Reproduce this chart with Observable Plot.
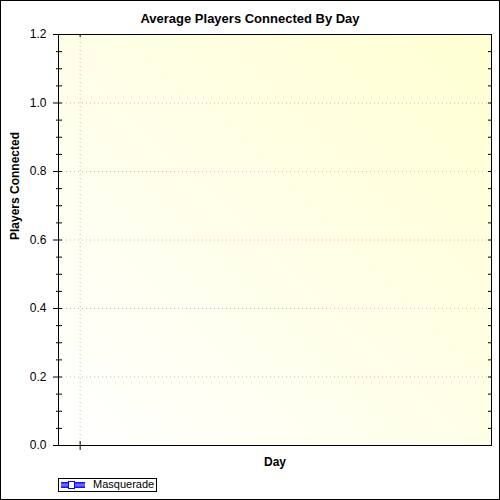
<!DOCTYPE html>
<html>
<head>
<meta charset="utf-8">
<script src="https://cdn.jsdelivr.net/npm/d3@7"></script>
<script src="https://cdn.jsdelivr.net/npm/@observablehq/plot@0.6"></script>
<style>
  html, body { margin: 0; padding: 0; background: #fff; }
  #chart { position: relative; width: 500px; height: 500px; background: #fff; font-family: "Liberation Sans", Arial, sans-serif; overflow: hidden; }
  #border { position: absolute; left: 0; top: 0; width: 500px; height: 500px; border: 1px solid #000; box-sizing: border-box; pointer-events: none; }
  #title { height: 30px; box-sizing: border-box; padding-top: 11px; line-height: 15px; font-size: 13px; font-weight: bold; text-align: center; color: #000; }
  #plot { margin-top: -10px; }
  #plot svg { display: block; }
  #legend { position: absolute; left: 58px; top: 478px; width: 99px; height: 14px; border: 1px solid #000; box-sizing: border-box; background: #fff; }
  #legend .item { position: absolute; left: 0; top: 0; height: 12px; }
  #legend svg { position: absolute; left: 2px; top: 2px; }
  #legend span { position: absolute; left: 34px; top: -1px; font-size: 11px; line-height: 12px; white-space: nowrap; color: #000; }
</style>
</head>
<body>
<div id="chart">
  <div id="title"></div>
  <div id="plot"></div>
  <div id="legend"></div>
  <div id="border"></div>
</div>
<script>
// ---- Data (the series has no recorded values in the reference) ----
const chartTitle = "Average Players Connected By Day";
const xLabel = "Day";
const yLabel = "Players Connected";
const seriesNames = ["Masquerade"];
const days = [];
const players = [];
const xDomain = [0, 20];
const xTicks = [1];
const yDomain = [0, 1.2];
const yTicks = [0, 0.2, 0.4, 0.6, 0.8, 1.0, 1.2];
const yGridTicks = [0.2, 0.4, 0.6, 0.8, 1.0];
const yMinorTicks = [0.05, 0.1, 0.15, 0.25, 0.3, 0.35, 0.45, 0.5, 0.55, 0.65, 0.7, 0.75, 0.85, 0.9, 0.95, 1.05, 1.1, 1.15];
const yRightTicks = [0.05, 0.1, 0.15, 0.2, 0.25, 0.3, 0.35, 0.4, 0.45, 0.5, 0.55, 0.6, 0.65, 0.7, 0.75, 0.8, 0.85, 0.9, 0.95, 1.0, 1.05, 1.1, 1.15];

const rows = days.map((d, i) => ({day: d, players: players[i], series: seriesNames[0]}));

document.getElementById("title").textContent = chartTitle;

const W = 500, H = 450;
const mL = 58, mR = 9, mT = 14, mB = 25;
const fw = W - mL - mR;   // frame width
const fh = H - mT - mB;   // frame height

const background = (index, scales, values, dims) => {
  const g = d3.create("svg:g");
  const lg = g.append("defs").append("linearGradient")
    .attr("id", "bgGrad").attr("x1", "0").attr("y1", "1").attr("x2", "1").attr("y2", "0");
  lg.append("stop").attr("offset", "0").attr("stop-color", "#ffffff");
  lg.append("stop").attr("offset", "1").attr("stop-color", "#ffffd2");
  g.append("rect")
    .attr("x", dims.marginLeft).attr("y", dims.marginTop)
    .attr("width", dims.width - dims.marginLeft - dims.marginRight)
    .attr("height", dims.height - dims.marginTop - dims.marginBottom)
    .attr("fill", "url(#bgGrad)");
  return g.node();
};

const plot = Plot.plot({
  width: W,
  height: H,
  marginLeft: mL,
  marginRight: mR,
  marginTop: mT,
  marginBottom: mB,
  style: {background: "transparent", fontFamily: "'Liberation Sans', Arial, sans-serif", fontSize: "12px", color: "#000"},
  x: {type: "linear", domain: xDomain, axis: null},
  y: {type: "linear", domain: yDomain, axis: null},
  marks: [
    background,
    Plot.gridY(yGridTicks, {stroke: "#c0c0c0", strokeOpacity: 1, strokeDasharray: "1,3"}),
    Plot.gridX(xTicks, {stroke: "#c0c0c0", strokeOpacity: 1, strokeDasharray: "1,3"}),
    Plot.line(rows, {x: "day", y: "players", stroke: "blue", strokeWidth: 2}),
    Plot.dot(rows, {x: "day", y: "players", symbol: "square", fill: "white", stroke: "blue", r: 3}),
    Plot.frame({stroke: "#000"}),
    // left major ticks (crossing the axis)
    Plot.tickY(yTicks, {y: d => d, stroke: "#000", strokeOpacity: 1, insetLeft: -5, insetRight: fw - 4}),
    // left minor ticks
    Plot.tickY(yMinorTicks, {y: d => d, stroke: "#000", strokeOpacity: 1, insetLeft: -2, insetRight: fw - 4}),
    // right inward ticks
    Plot.tickY(yRightTicks, {y: d => d, stroke: "#000", strokeOpacity: 1, insetLeft: fw - 3, insetRight: 0}),
    // bottom tick (crossing) and top inward tick
    Plot.tickX(xTicks, {x: d => d, stroke: "#000", strokeOpacity: 1, insetTop: fh - 4, insetBottom: -5}),
    Plot.tickX(xTicks, {x: d => d, stroke: "#000", strokeOpacity: 1, insetTop: 0, insetBottom: fh - 3}),
    // y tick labels
    Plot.text(yTicks, {y: d => d, text: d => d3.format(".1f")(d), frameAnchor: "left", dx: -12, textAnchor: "end", fontSize: 12, fill: "#000"}),
    // axis titles
    Plot.text([yLabel], {frameAnchor: "left", dx: -43, rotate: -90, fontWeight: "bold", fontSize: 12, fill: "#000"}),
    Plot.text([xLabel], {frameAnchor: "bottom", dy: 20, fontWeight: "bold", fontSize: 12, fill: "#000"})
  ]
});
document.getElementById("plot").appendChild(plot);

// legend
const legend = document.getElementById("legend");
seriesNames.forEach((name) => {
  const item = document.createElement("div");
  item.className = "item";
  item.innerHTML =
    '<svg width="25" height="8" viewBox="0 0 25 8">' +
    '<defs><linearGradient id="swGrad" x1="0" y1="0" x2="0" y2="1">' +
    '<stop offset="0" stop-color="#0000ff"/><stop offset="0.5" stop-color="#7f7fff"/><stop offset="1" stop-color="#0000ff"/>' +
    '</linearGradient></defs>' +
    '<rect x="0" y="1" width="24" height="6" fill="url(#swGrad)"/>' +
    '<rect x="7.5" y="0.5" width="6" height="7" fill="#fff" stroke="#0000ff"/>' +
    '</svg>';
  const span = document.createElement("span");
  span.textContent = name;
  item.appendChild(span);
  legend.appendChild(item);
});
</script>
</body>
</html>
